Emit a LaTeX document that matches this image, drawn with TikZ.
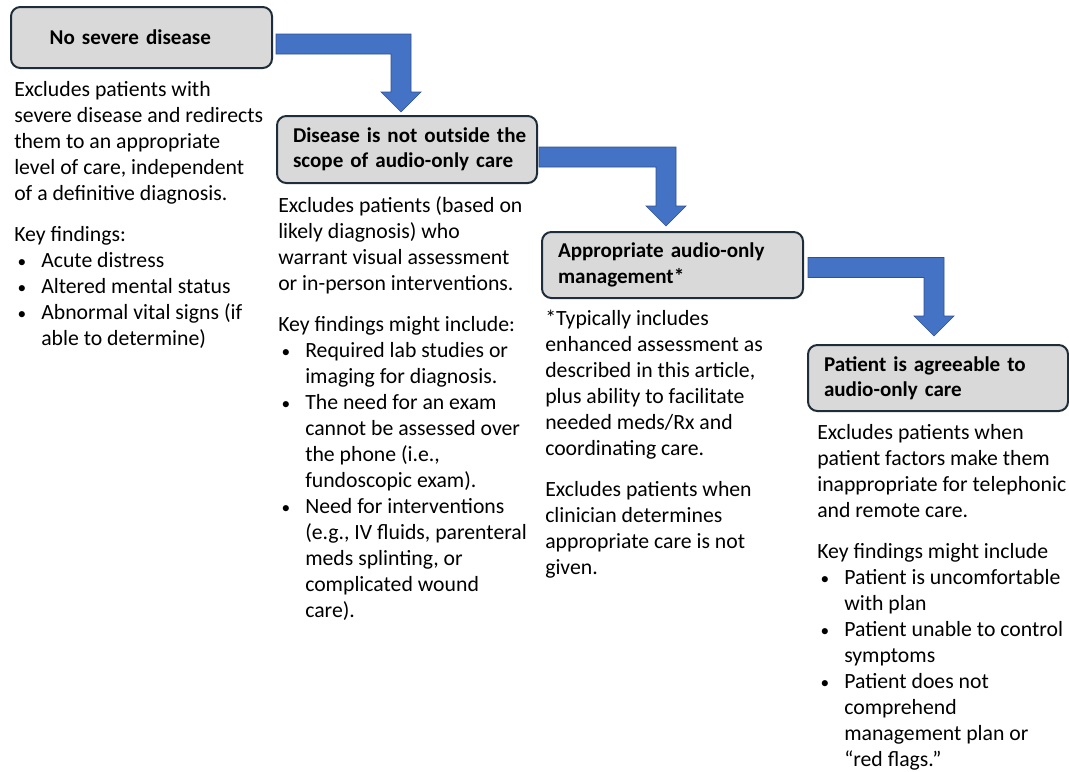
\documentclass[tikz,border=0pt]{standalone}
\usepackage{fontspec}
\setmainfont{Carlito}
\usetikzlibrary{calc}
\definecolor{boxfill}{HTML}{D9D9D9}
\definecolor{boxline}{HTML}{1F2D3A}
\definecolor{arrfill}{HTML}{4472C4}
\definecolor{arrline}{HTML}{2F528F}
\newcommand\bul{\hspace*{2.5pt}\makebox[17.75pt][l]{\fontsize{13}{13}\selectfont•}}
\newcommand\ind{\hspace*{20.25pt}}
\newcommand\tin{\hspace*{12pt}}
\newcommand\bentarrow[2]{%
  \fill[arrfill,draw=arrline,line width=0.5pt,line join=miter]
    ($(#1)+(0,-10)$) -- ($(#2 |- #1)+(10,-10)$) -- ($(#2)+(10,-20)$) -- ($(#2)+(20,-20)$)
    -- (#2) -- ($(#2)+(-20,-20)$) -- ($(#2)+(-10,-20)$) -- ($(#2 |- #1)+(-10,10)$)
    -- ($(#1)+(0,10)$) -- cycle;}
\begin{document}
\begin{tikzpicture}[x=0.75pt,y=-0.75pt,
  titlebox/.style={draw=boxline,fill=boxfill,line width=1.5pt,rounded corners=7pt,
    inner xsep=0pt,inner ysep=0pt,align=left,font=\fontsize{15.8}{19}\selectfont\bfseries},
  body/.style={anchor=north west,inner sep=0pt,align=left,font=\fontsize{16.3}{19.5}\selectfont}]
\useasboundingbox (0,0) rectangle (1069,771);
\node[titlebox,minimum width=261*0.75pt,minimum height=61*0.75pt,text width=261*0.75pt] (b1) at (141.5,37.5) {\hspace*{29pt}No severe disease};
\node[titlebox,minimum width=260*0.75pt,minimum height=67*0.75pt,text width=260*0.75pt] (b2) at (407,149.5) {\tin Disease is not outside the\\\tin scope of audio-only care};
\node[titlebox,minimum width=261*0.75pt,minimum height=66*0.75pt,text width=261*0.75pt] (b3) at (672.5,265) {\tin Appropriate audio-only\\\tin management*};
\node[titlebox,minimum width=260*0.75pt,minimum height=66*0.75pt,text width=260*0.75pt] (b4) at (938,378) {\tin Patient is agreeable to\\\tin audio-only care};

\coordinate (s1) at ($(b1.east)+(3,6.5)$);
\coordinate (t1) at ($(b2.north west)+(125,-3)$);
\coordinate (s2) at ($(b2.east)+(1,7.5)$);
\coordinate (t2) at ($(b3.north west)+(125,-5)$);
\coordinate (s3) at ($(b3.east)+(4,2.5)$);
\coordinate (t3) at ($(b4.north west)+(127,-8)$);
\bentarrow{s1}{t1}
\bentarrow{s2}{t2}
\bentarrow{s3}{t3}

\node[body] (d1) at (14,81) {Excludes patients with\\
severe disease and redirects\\
them to an appropriate\\
level of care, independent\\
of a definitive diagnosis.\\[11.25pt]
Key findings:\\
\bul Acute distress\\
\bul Altered mental status\\
\bul Abnormal vital signs (if\\
\ind able to determine)};

\node[body] (d2) at (278,196) {Excludes patients (based on\\
likely diagnosis) who\\
warrant visual assessment\\
or in-person interventions.\\[11.25pt]
Key findings might include:\\
\bul Required lab studies or\\
\ind imaging for diagnosis.\\
\bul The need for an exam\\
\ind cannot be assessed over\\
\ind the phone (i.e.,\\
\ind fundoscopic exam).\\
\bul Need for interventions\\
\ind (e.g., IV fluids, parenteral\\
\ind meds splinting, or\\
\ind complicated wound\\
\ind care).};

\node[body] (d3) at (545,310) {*Typically includes\\
enhanced assessment as\\
described in this article,\\
plus ability to facilitate\\
needed meds/Rx and\\
coordinating care.\\[11.25pt]
Excludes patients when\\
clinician determines\\
appropriate care is not\\
given.};

\node[body] (d4) at (817,424) {Excludes patients when\\
patient factors make them\\
inappropriate for telephonic\\
and remote care.\\[11.25pt]
Key findings might include\\
\bul Patient is uncomfortable\\
\ind with plan\\
\bul Patient unable to control\\
\ind symptoms\\
\bul Patient does not\\
\ind comprehend\\
\ind management plan or\\
\ind “red flags.”};
\end{tikzpicture}
\end{document}
